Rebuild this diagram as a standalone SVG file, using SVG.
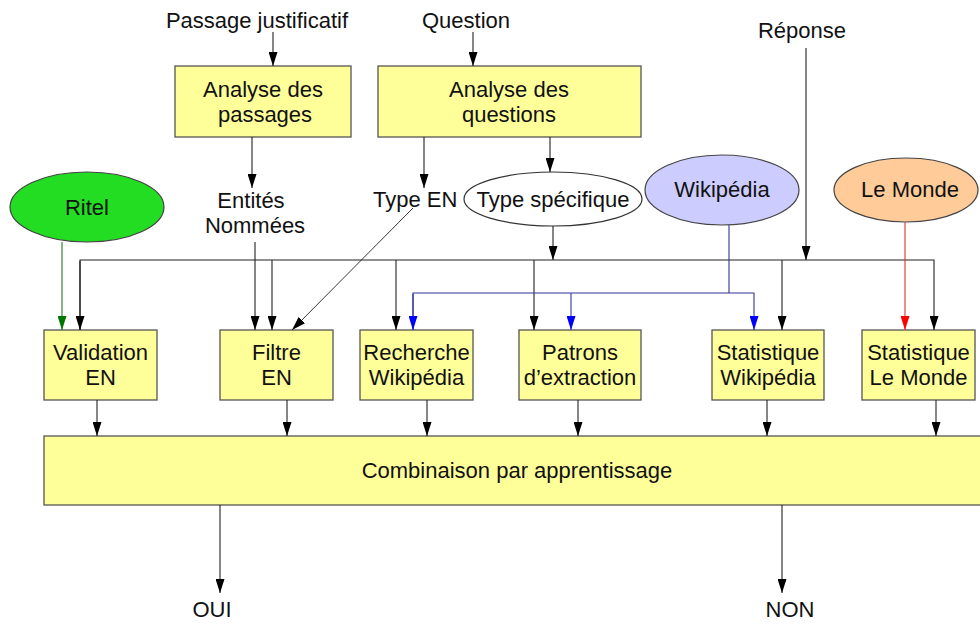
<svg xmlns="http://www.w3.org/2000/svg" width="980" height="624" viewBox="0 0 980 624">
<style>
text{font-family:"Liberation Sans",Arial,sans-serif;font-size:22px;fill:#111;text-anchor:middle}
.box{fill:#ffff99;stroke:#555;stroke-width:1.3}
.ln{fill:none;stroke:#222;stroke-width:1.1}
.lb{fill:none;stroke:#333399;stroke-width:1.1}
.lr{fill:none;stroke:#dd3333;stroke-width:1.1}
.lg{fill:none;stroke:#227722;stroke-width:1.1}
</style>
<defs>
<marker id="ak" viewBox="0 0 14 9" refX="14" refY="4.5" markerWidth="14" markerHeight="9" markerUnits="userSpaceOnUse" orient="auto"><path d="M0,0 L14,4.5 L0,9 z" fill="#000"/></marker>
<marker id="ab" viewBox="0 0 14 9" refX="14" refY="4.5" markerWidth="14" markerHeight="9" markerUnits="userSpaceOnUse" orient="auto"><path d="M0,0 L14,4.5 L0,9 z" fill="#0000ff"/></marker>
<marker id="ar" viewBox="0 0 14 9" refX="14" refY="4.5" markerWidth="14" markerHeight="9" markerUnits="userSpaceOnUse" orient="auto"><path d="M0,0 L14,4.5 L0,9 z" fill="#ff0000"/></marker>
<marker id="ag" viewBox="0 0 14 9" refX="14" refY="4.5" markerWidth="14" markerHeight="9" markerUnits="userSpaceOnUse" orient="auto"><path d="M0,0 L14,4.5 L0,9 z" fill="#007700"/></marker>
</defs>

<g id="labels">
<text x="257" y="28">Passage justificatif</text>
<text x="466" y="28">Question</text>
<text x="802" y="38">Réponse</text>
<text x="251" y="208">Entités</text>
<text x="255" y="233">Nommées</text>
<text x="373" y="207" style="text-anchor:start">Type EN</text>
<text x="212" y="617">OUI</text>
<text x="790" y="617">NON</text>
</g>

<g id="analyse-passages"><rect class="box" x="175" y="66" width="176" height="71"/><text x="263" y="97">Analyse des</text><text x="265" y="122">passages</text></g>
<g id="analyse-questions"><rect class="box" x="378" y="66" width="263" height="71"/><text x="509" y="97">Analyse des</text><text x="509" y="122">questions</text></g>
<g id="type-specifique"><ellipse cx="553" cy="199" rx="89" ry="27" fill="#fff" stroke="#333" stroke-width="1.2"/><text x="553" y="207">Type spécifique</text></g>
<g id="ritel"><ellipse cx="87" cy="207" rx="77" ry="35" fill="#22dd22" stroke="#444" stroke-width="1.2"/><text x="87" y="215">Ritel</text></g>
<g id="wikipedia"><ellipse cx="722" cy="190" rx="77" ry="35" fill="#ccccff" stroke="#444" stroke-width="1.2"/><text x="722" y="197">Wikipédia</text></g>
<g id="lemonde"><ellipse cx="906" cy="190" rx="72" ry="32" fill="#ffcc99" stroke="#444" stroke-width="1.2"/><text x="910" y="197">Le Monde</text></g>

<g id="validation"><rect class="box" x="44" y="330" width="113" height="70"/><text x="100.5" y="360">Validation</text><text x="100.5" y="385">EN</text></g>
<g id="filtre"><rect class="box" x="220" y="330" width="113" height="70"/><text x="276.5" y="360">Filtre</text><text x="276.5" y="385">EN</text></g>
<g id="recherche"><rect class="box" x="360" y="330" width="113" height="70"/><text x="416.5" y="360">Recherche</text><text x="416.5" y="385">Wikipédia</text></g>
<g id="patrons"><rect class="box" x="519" y="330" width="122" height="70"/><text x="580" y="360">Patrons</text><text x="580" y="385">d’extraction</text></g>
<g id="stat-wiki"><rect class="box" x="712" y="330" width="112" height="70"/><text x="768" y="360">Statistique</text><text x="768" y="385">Wikipédia</text></g>
<g id="stat-lemonde"><rect class="box" x="862" y="330" width="113" height="70"/><text x="918.5" y="360">Statistique</text><text x="918.5" y="385">Le Monde</text></g>
<g id="combinaison"><rect class="box" x="44" y="436" width="946" height="69"/><text x="517" y="478">Combinaison par apprentissage</text></g>

<g id="connectors">
<line class="ln" x1="273" y1="32" x2="273" y2="66" marker-end="url(#ak)"/>
<line class="ln" x1="473" y1="32" x2="473" y2="66" marker-end="url(#ak)"/>
<line class="ln" x1="252" y1="137" x2="252" y2="188" marker-end="url(#ak)"/>
<line class="ln" x1="424" y1="137" x2="424" y2="188" marker-end="url(#ak)"/>
<line class="ln" x1="550" y1="137" x2="550" y2="172" marker-end="url(#ak)"/>
<line class="ln" x1="553" y1="226" x2="553" y2="260" marker-end="url(#ak)"/>
<line class="ln" x1="806" y1="48" x2="806" y2="260" marker-end="url(#ak)"/>
<line class="ln" x1="255" y1="242" x2="255" y2="330" marker-end="url(#ak)"/>
<path class="ln" d="M80,330 V260 H934 V330" marker-end="url(#ak)"/>
<line class="ln" x1="80" y1="261" x2="80" y2="330" marker-end="url(#ak)"/>
<line class="ln" x1="272" y1="260" x2="272" y2="330" marker-end="url(#ak)"/>
<line class="ln" x1="396" y1="260" x2="396" y2="330" marker-end="url(#ak)"/>
<line class="ln" x1="534" y1="260" x2="534" y2="330" marker-end="url(#ak)"/>
<line class="ln" x1="782" y1="260" x2="782" y2="330" marker-end="url(#ak)"/>
<line class="ln" x1="413" y1="208" x2="292" y2="330" marker-end="url(#ak)" style="stroke-width:0.9"/>
<line class="ln" x1="97" y1="400" x2="97" y2="436" marker-end="url(#ak)"/>
<line class="ln" x1="287" y1="400" x2="287" y2="436" marker-end="url(#ak)"/>
<line class="ln" x1="427" y1="400" x2="427" y2="436" marker-end="url(#ak)"/>
<line class="ln" x1="578" y1="400" x2="578" y2="436" marker-end="url(#ak)"/>
<line class="ln" x1="767" y1="400" x2="767" y2="436" marker-end="url(#ak)"/>
<line class="ln" x1="936" y1="400" x2="936" y2="436" marker-end="url(#ak)"/>
<line class="ln" x1="220" y1="505" x2="220" y2="593" marker-end="url(#ak)"/>
<line class="ln" x1="782" y1="505" x2="782" y2="593" marker-end="url(#ak)"/>
<line class="lg" x1="62" y1="242" x2="62" y2="330" marker-end="url(#ag)"/>
<line class="lr" x1="905" y1="222" x2="905" y2="330" marker-end="url(#ar)"/>
<line class="lb" x1="729" y1="225" x2="729" y2="293"/>
<path class="lb" d="M413,330 V293 H754 V330" marker-end="url(#ab)"/>
<line class="lb" x1="413" y1="294" x2="413" y2="330" marker-end="url(#ab)"/>
<line class="lb" x1="571" y1="293" x2="571" y2="330" marker-end="url(#ab)"/>
</g>
</svg>
